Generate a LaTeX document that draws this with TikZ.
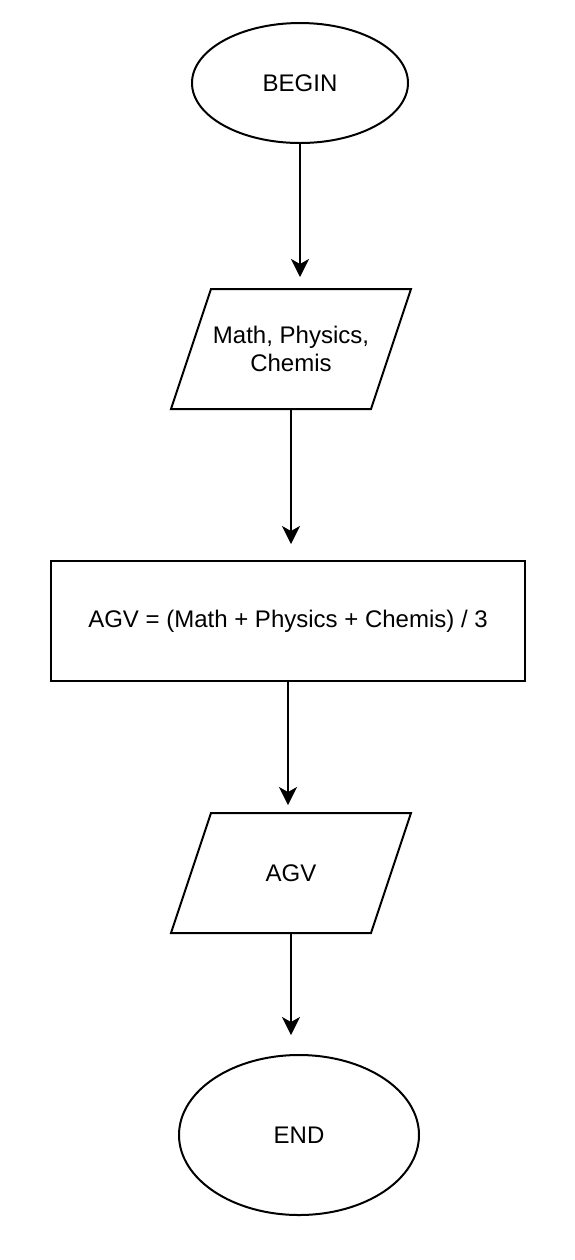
\documentclass[tikz,border=0pt]{standalone}
\usepackage{fontspec}
\setmainfont{Liberation Sans}
\usetikzlibrary{shapes.geometric,arrows.meta}

\begin{document}
\begin{tikzpicture}[
  x=0.5pt, y=-0.5pt,
  every node/.style = {font=\fontsize{12}{14.4}\selectfont, line width=1pt, align=center},
  terminal/.style = {draw, ellipse, minimum height=60pt},
  io/.style = {rectangle, outer sep=0pt, minimum width=120pt, minimum height=60pt},
  ioline/.style = {line width=1pt, line join=miter},
  process/.style = {draw, rectangle, minimum width=237pt, minimum height=60pt},
  flow/.style = {-{Stealth[length=9pt, width=9pt, inset=2.5pt]}, line width=1pt},
]
\useasboundingbox (0,0) rectangle (574,1260);

%% ── Nodes ───────────────────────────────────────────────────────────────────
\node[terminal, minimum width=108pt] (begin) at (300, 83) {BEGIN};
\node[io] (input) at (291, 349) {Math, Physics,\\Chemis};
\node[process] (calc) at (288, 621) {AGV = (Math + Physics + Chemis) / 3};
\node[io] (output) at (291, 873) {AGV};
\node[terminal, minimum width=120pt, minimum height=80pt] (end) at (299, 1135) {END};

%% ── Parallelogram outlines ──────────────────────────────────────────────────
\draw[ioline] ([xshift=20pt]input.north west) -- (input.north east)
  -- ([xshift=-20pt]input.south east) -- (input.south west) -- cycle;
\draw[ioline] ([xshift=20pt]output.north west) -- (output.north east)
  -- ([xshift=-20pt]output.south east) -- (output.south west) -- cycle;

%% ── Flow arrows ─────────────────────────────────────────────────────────────
\draw[flow, shorten >=6pt] (begin.south) -- (begin.south |- input.north);
\draw[flow, shorten >=8pt] (input.south) -- (input.south |- calc.north);
\draw[flow, shorten >=4pt] (calc.south) -- (calc.south |- output.north);
\draw[flow, shorten >=9.5pt] (output.south) -- (output.south |- end.north);

\end{tikzpicture}
\end{document}
